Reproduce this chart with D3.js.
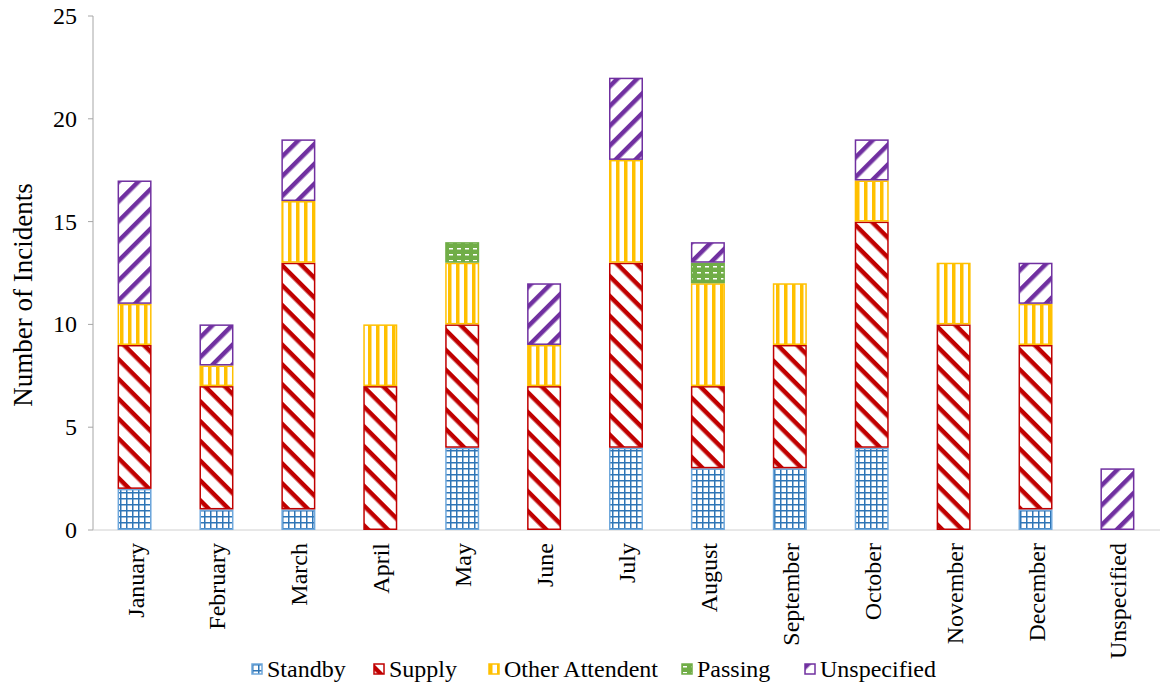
<!DOCTYPE html>
<html>
<head>
<meta charset="utf-8">
<script src="https://cdn.jsdelivr.net/npm/d3@7"></script>
<style>
body { margin: 0; background: #fff; }
</style>
</head>
<body>
<div id="chart"></div>
<script>
// months along the x axis
var months = ['January', 'February', 'March', 'April', 'May', 'June', 'July',
  'August', 'September', 'October', 'November', 'December', 'Unspecified'];
var seriesNames = ['Standby', 'Supply', 'Other Attendent', 'Passing', 'Unspecified'];
// counts per series, one per month
var standby     = [2, 1, 1, 0, 4, 0, 4, 3, 3, 4, 0, 1, 0];
var supply      = [7, 6, 12, 7, 6, 7, 9, 4, 6, 11, 10, 8, 0];
var otherAttend = [2, 1, 3, 3, 3, 2, 5, 5, 3, 2, 3, 2, 0];
var passing     = [0, 0, 0, 0, 1, 0, 0, 1, 0, 0, 0, 0, 0];
var unspecified = [6, 2, 3, 0, 0, 3, 4, 1, 0, 2, 0, 2, 3];
var yTicks = [0, 5, 10, 15, 20, 25];

var width = 1160, height = 684;
var svg = d3.select('#chart').append('svg')
  .attr('width', width).attr('height', height)
  .attr('font-family', '"Liberation Serif", "DejaVu Serif", serif');

var colors = ['#2E75B6', '#C00000', '#FFC000', '#70AD47', '#7030A0'];
var edge = ['#6FA8DC', '#C00000', '#FFC000', '#70AD47', '#7030A0'];

// fill patterns, roughly like the office ones
var defs = svg.append('defs');
var p0 = defs.append('pattern').attr('id', 'pat0').attr('patternUnits', 'userSpaceOnUse')
  .attr('width', 6).attr('height', 6);
p0.append('rect').attr('width', 6).attr('height', 6).attr('fill', '#fff');
p0.append('path').attr('d', 'M0,0.75H6M0.75,0V6').attr('stroke', colors[0]).attr('stroke-width', 1.5);

// supply: wide downward diagonal
var p1 = defs.append('pattern').attr('id', 'pat1').attr('patternUnits', 'userSpaceOnUse')
  .attr('width', 14).attr('height', 14).attr('patternTransform', 'rotate(45)');
p1.append('rect').attr('width', 14).attr('height', 14).attr('fill', '#fff');
p1.append('rect').attr('width', 14).attr('height', 4.5).attr('fill', colors[1]);

var p2 = defs.append('pattern').attr('id', 'pat2').attr('patternUnits', 'userSpaceOnUse')
  .attr('width', 8).attr('height', 8);
p2.append('rect').attr('width', 8).attr('height', 8).attr('fill', '#fff');
p2.append('rect').attr('width', 3.5).attr('height', 8).attr('fill', colors[2]);

var p3 = defs.append('pattern').attr('id', 'pat3').attr('patternUnits', 'userSpaceOnUse')
  .attr('width', 8).attr('height', 6);
p3.append('rect').attr('width', 8).attr('height', 6).attr('fill', colors[3]);
p3.append('rect').attr('x', 1).attr('y', 2).attr('width', 4).attr('height', 1.5).attr('fill', '#fff');

// unspecified: wide upward diagonal
var p4 = defs.append('pattern').attr('id', 'pat4').attr('patternUnits', 'userSpaceOnUse')
  .attr('width', 14).attr('height', 14).attr('patternTransform', 'rotate(-45)');
p4.append('rect').attr('width', 14).attr('height', 14).attr('fill', '#fff');
p4.append('rect').attr('width', 14).attr('height', 4.5).attr('fill', colors[4]);

var x = d3.scaleBand().domain(months).range([93, 1159]).paddingInner(0.585).paddingOuter(0.3);
var y = d3.scaleLinear().domain([0, 25]).range([530, 16]);

// axes
svg.append('line').attr('x1', 93).attr('x2', 93).attr('y1', y(25)).attr('y2', y(0))
  .attr('stroke', '#a6a6a6');
svg.append('line').attr('x1', 93).attr('x2', 1160).attr('y1', y(0)).attr('y2', y(0))
  .attr('stroke', '#d0d0d0');
svg.selectAll('.ytick').data(yTicks).enter().append('line')
  .attr('x1', 88).attr('x2', 93).attr('y1', function(d) { return y(d); })
  .attr('y2', function(d) { return y(d); }).attr('stroke', '#a6a6a6');
svg.selectAll('.ylab').data(yTicks).enter().append('text')
  .attr('x', 77).attr('y', function(d) { return y(d); }).attr('dy', '0.33em')
  .attr('text-anchor', 'end').style('font-size', '24px')
  .text(function(d) { return d; });

svg.append('text').attr('transform', 'translate(32,295) rotate(-90)')
  .attr('text-anchor', 'middle').style('font-size', '27px').text('Number of Incidents');

svg.selectAll('.xlab').data(months).enter().append('text')
  .attr('transform', function(d) {
    return 'translate(' + (x(d) + x.bandwidth() / 2 + 9) + ',543) rotate(-90)';
  })
  .attr('text-anchor', 'end').style('font-size', '24px').text(function(d) { return d; });

// stacked bars
var rows = months.map(function(m, i) {
  return { month: m, s0: standby[i], s1: supply[i], s2: otherAttend[i], s3: passing[i], s4: unspecified[i] };
});
var stack = d3.stack().keys(['s0', 's1', 's2', 's3', 's4'])(rows);

stack.forEach(function(layer, k) {
  svg.append('g').selectAll('rect').data(layer).enter()
    .filter(function(d) { return d[1] > d[0]; })
    .append('rect')
    .attr('x', function(d) { return x(d.data.month) + 0.75; })
    .attr('width', x.bandwidth() - 1.5)
    .attr('y', function(d) { return y(d[1]) + 0.75; })
    .attr('height', function(d) { return y(d[0]) - y(d[1]) - 1.5; })
    .attr('fill', 'url(#pat' + k + ')')
    .attr('stroke', edge[k]).attr('stroke-width', 1.5);
});

// legend
var legX = [252, 374, 489, 682, 805];
var leg = svg.selectAll('.leg').data(seriesNames).enter().append('g')
  .attr('transform', function(d, i) { return 'translate(' + legX[i] + ',664)'; });
leg.append('rect').attr('width', 10).attr('height', 10)
  .attr('fill', function(d, i) { return 'url(#pat' + i + ')'; })
  .attr('stroke', function(d, i) { return edge[i]; }).attr('stroke-width', 1.5);
leg.append('text').attr('x', 15).attr('y', 5).attr('dy', '0.35em')
  .style('font-size', '24px').text(function(d) { return d; });
</script>
</body>
</html>
